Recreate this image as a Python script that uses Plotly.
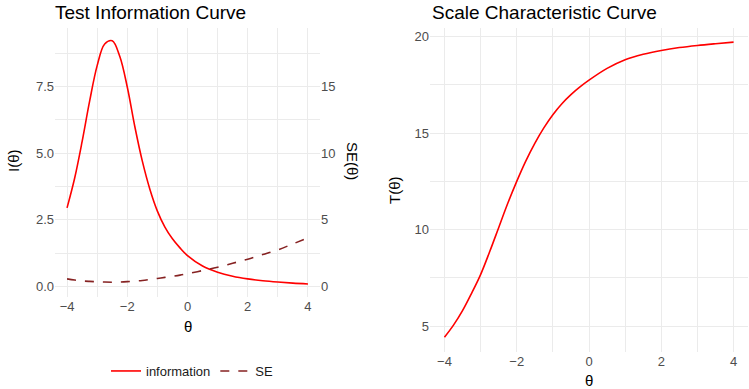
import plotly.graph_objects as go

theta = [-4, -3.75, -3.5, -3.25, -3, -2.75, -2.5, -2.25, -2, -1.75, -1.5, -1.25, -1,
         -0.75, -0.5, -0.25, 0, 0.5, 1, 1.5, 2, 2.5, 3, 3.5, 4]
information = [2.95, 4.05, 5.43, 6.95, 8.28, 9.09, 9.21, 8.63, 7.48, 6.0, 4.7, 3.65, 2.83,
               2.23, 1.79, 1.45, 1.16, 0.77, 0.54, 0.39, 0.29, 0.22, 0.17, 0.13, 0.1]
se = [0.58, 0.49, 0.43, 0.39, 0.36, 0.34, 0.33, 0.34, 0.37, 0.41, 0.46, 0.53, 0.61,
      0.69, 0.77, 0.86, 0.97, 1.2, 1.45, 1.75, 2.05, 2.4, 2.75, 3.2, 3.65]
score = [4.42, 5.05, 5.8, 6.7, 7.67, 8.85, 10.1, 11.35, 12.5, 13.55, 14.47, 15.27, 15.95,
         16.52, 16.99, 17.39, 17.74, 18.35, 18.8, 19.08, 19.28, 19.43, 19.54, 19.63, 19.71]

x_ticks = [-4, -2, 0, 2, 4]
i_ticks = [0, 2.5, 5, 7.5]
i_labels = ["0.0", "2.5", "5.0", "7.5"]
se_ticks = [0, 5, 10, 15]
t_ticks = [5, 10, 15, 20]

W, H = 749, 389
FONT = "Liberation Sans, Arial, sans-serif"
GRID = "#ebebeb"
TICKC = "#4d4d4d"

def px(x):
    return x / W

def py(y):
    return 1 - y / H

fig = go.Figure()
fig.add_trace(go.Scatter(x=theta, y=information, mode="lines", name="information",
                         line=dict(color="#ff0000", width=1.6, shape="spline", smoothing=1),
                         xaxis="x", yaxis="y"))
fig.add_trace(go.Scatter(x=theta, y=se, mode="lines", name="SE",
                         line=dict(color="#862222", width=1.6, dash="dash", shape="spline"),
                         xaxis="x", yaxis="y2"))
fig.add_trace(go.Scatter(x=theta, y=score, mode="lines", name="T", showlegend=False,
                         line=dict(color="#ff0000", width=1.6, shape="spline", smoothing=1),
                         xaxis="x2", yaxis="y3"))

y_left = [-0.39, 9.71]
y_top, y_bot = 27.5, 297
ax_common = dict(showline=False, zeroline=False, ticks="", gridcolor=GRID, gridwidth=1,
                 automargin=False,
                 tickfont=dict(family=FONT, size=13, color=TICKC))

def ann(text, x, y, angle=0, size=15, anchor="center"):
    return dict(text=text, x=px(x), y=py(y), xref="paper", yref="paper",
                xanchor=anchor, yanchor="middle", showarrow=False, textangle=angle,
                font=dict(family=FONT, size=size, color="black"))

fig.update_layout(
    width=W, height=H,
    margin=dict(l=0, r=0, t=0, b=0),
    paper_bgcolor="white", plot_bgcolor="white",
    font=dict(family=FONT, color="black"),
    xaxis=dict(domain=[px(55), px(320)], range=[-4.4, 4.4], tickvals=x_ticks,
               anchor="y",
               minor=dict(showgrid=True, gridcolor=GRID, gridwidth=0.6, dtick=1, tick0=-4),
               **ax_common),
    yaxis=dict(domain=[py(y_bot), py(y_top)], range=y_left, tickvals=i_ticks,
               ticktext=i_labels, anchor="x",
               minor=dict(showgrid=True, gridcolor=GRID, gridwidth=0.6, dtick=1.25, tick0=0),
               **ax_common),
    yaxis2=dict(overlaying="y", side="right", anchor="x",
                range=[2 * y_left[0], 2 * y_left[1]], tickvals=se_ticks,
                showgrid=False, showline=False, zeroline=False, ticks="", automargin=False,
                tickfont=dict(family=FONT, size=13, color=TICKC)),
    xaxis2=dict(domain=[px(430), px(748)], range=[-4.4, 4.4], tickvals=x_ticks,
                anchor="y3",
                minor=dict(showgrid=True, gridcolor=GRID, gridwidth=0.6, dtick=1, tick0=-4),
                **ax_common),
    yaxis3=dict(domain=[py(352), py(y_top)], range=[3.66, 20.47], tickvals=t_ticks,
                anchor="x2",
                minor=dict(showgrid=True, gridcolor=GRID, gridwidth=0.6, dtick=2.5, tick0=0),
                **ax_common),
    legend=dict(orientation="h", x=px(192), xanchor="center", y=py(371), yanchor="middle",
                font=dict(family=FONT, size=13, color="#1a1a1a"), itemwidth=30,
                bgcolor="rgba(0,0,0,0)"),
    annotations=[
        ann("Test Information Curve", 53, 13, size=19, anchor="left"),
        ann("Scale Characteristic Curve", 430, 13, size=19, anchor="left"),
        ann("I(θ)", 13, 161, angle=-90),
        ann("SE(θ)", 353, 161, angle=90),
        ann("θ", 188, 326),
        ann("T(θ)", 395, 190, angle=-90),
        ann("θ", 589, 380),
    ],
)

fig.write_html("out.html", config={"displayModeBar": False},
               post_script="document.body.style.margin='0';document.body.style.overflow='hidden';")
